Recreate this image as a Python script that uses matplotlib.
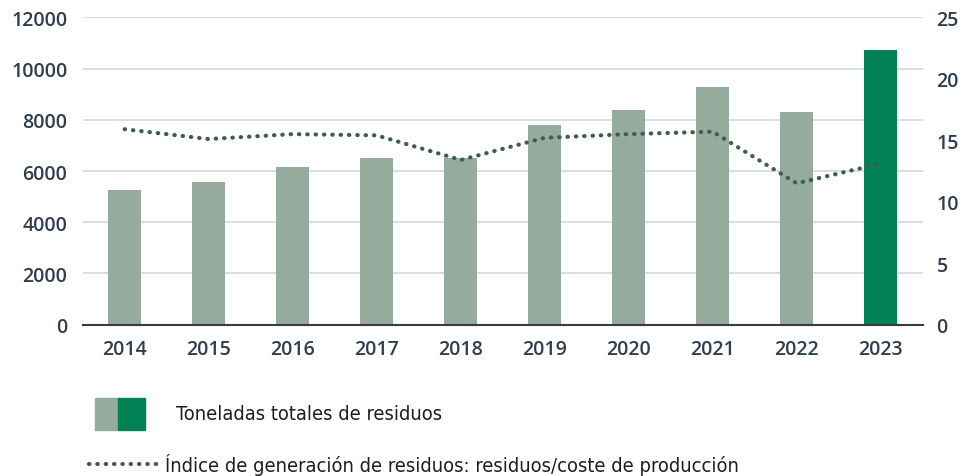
import numpy as np
import matplotlib.pyplot as plt
from matplotlib.patches import Rectangle
from matplotlib.lines import Line2D

years = ['2014', '2015', '2016', '2017', '2018', '2019', '2020', '2021', '2022', '2023']
toneladas = [5260, 5570, 6160, 6510, 6490, 7800, 8380, 9280, 8300, 10720]
indice = [15.9, 15.1, 15.5, 15.4, 13.4, 15.2, 15.5, 15.7, 11.5, 13.1]

GRIS = '#94ab9e'
VERDE = '#008255'
LINEA = '#3d5e4f'
TEXTO = '#2f3e4e'
PUNTOS = (0, (0.1, 1.9))


def main():
    fig = plt.figure(figsize=(9.6, 4.77), dpi=100)
    ax = fig.add_axes([0.0861, 0.3172, 0.875, 0.6444])
    ax2 = ax.twinx()

    x = np.arange(len(years))
    colores = [GRIS] * (len(years) - 1) + [VERDE]
    ax.bar(x, toneladas, width=0.39, color=colores, zorder=2)

    ax2.plot(x, indice, color=LINEA, linestyle=PUNTOS, linewidth=3,
             dash_capstyle='round', zorder=3)

    ax.set_xlim(-0.5, 9.5)
    ax.set_ylim(0, 12000)
    ax2.set_ylim(0, 25)
    ax.set_yticks(np.arange(0, 12001, 2000))
    ax2.set_yticks(np.arange(0, 26, 5))
    ax.set_xticks(x)
    ax.set_xticklabels(years)

    ax.grid(axis='y', color='#d5dcda', linewidth=1.3, zorder=0)
    ax.set_axisbelow(True)
    for a in (ax, ax2):
        for s in a.spines.values():
            s.set_visible(False)
        a.tick_params(length=0, labelsize=14, labelcolor=TEXTO)
        for lbl in a.get_xticklabels() + a.get_yticklabels():
            lbl.set_fontfamily('Open Sans')
            lbl.set_fontweight('semibold')
    ax.spines['bottom'].set_visible(True)
    ax.spines['bottom'].set_color('#3a3a3a')
    ax.spines['bottom'].set_linewidth(1.5)
    ax.tick_params(axis='y', pad=11)
    ax.tick_params(axis='x', pad=10)
    ax2.tick_params(axis='y', pad=10)
    ax2.set_zorder(ax.get_zorder() + 1)
    ax2.patch.set_visible(False)

    # legend drawn by hand below the axes
    fig.patches.append(Rectangle((95 / 960, 1 - 431 / 477), 23 / 960, 32 / 477,
                                 color=GRIS, transform=fig.transFigure))
    fig.patches.append(Rectangle((118 / 960, 1 - 431 / 477), 27 / 960, 32 / 477,
                                 color=VERDE, transform=fig.transFigure))
    fuente = dict(fontsize=14.4, family='DejaVu Sans', fontstretch='condensed',
                  color='#1e1e1e', va='center', ha='left')
    fig.text(176 / 960, 1 - 415 / 477, 'Toneladas totales de residuos', **fuente)
    fig.lines.append(Line2D([89 / 960, 159 / 960], [1 - 465 / 477] * 2,
                            color=LINEA, linestyle=PUNTOS, linewidth=3,
                            dash_capstyle='round', transform=fig.transFigure))
    fig.text(165 / 960, 1 - 465 / 477,
             'Índice de generación de residuos: residuos/coste de producción', **fuente)

    fig.savefig('out.png', dpi=100)


if __name__ == '__main__':
    main()
